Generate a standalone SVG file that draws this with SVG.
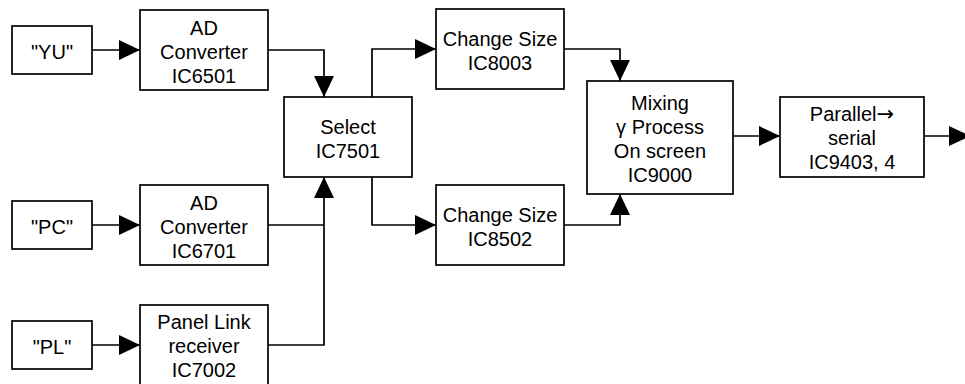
<svg xmlns="http://www.w3.org/2000/svg" width="965" height="384" viewBox="0 0 965 384">
<defs>
<style>
.box{fill:#fff;stroke:#000;stroke-width:1.7}
.t{font-family:"Liberation Sans",Arial,"DejaVu Sans",sans-serif;font-size:20px;fill:#000;text-anchor:middle}
.sym{font-family:"DejaVu Sans",sans-serif;font-size:21px}
.c{fill:none;stroke:#000;stroke-width:1.7}
</style>
<marker id="ah" markerUnits="userSpaceOnUse" viewBox="0 0 21 20" markerWidth="21" markerHeight="20" refX="21" refY="10" orient="auto">
<path d="M0,0 L21,10 L0,20 Z" fill="#000"/>
</marker>
</defs>
<rect width="965" height="384" fill="#fff"/>
<g id="connectors">
<path class="c" d="M92,50 H140" marker-end="url(#ah)"/>
<path class="c" d="M92,225 H140" marker-end="url(#ah)"/>
<path class="c" d="M92,345 H140" marker-end="url(#ah)"/>
<path class="c" d="M268,50 H324 V97" marker-end="url(#ah)"/>
<path class="c" d="M268,225 H324"/>
<path class="c" d="M268,345 H324 V177" marker-end="url(#ah)"/>
<path class="c" d="M372,97 V49 H436" marker-end="url(#ah)"/>
<path class="c" d="M372,177 V225 H436" marker-end="url(#ah)"/>
<path class="c" d="M564,49 H620 V81" marker-end="url(#ah)"/>
<path class="c" d="M564,225 H620 V194" marker-end="url(#ah)"/>
<path class="c" d="M733,136 H780" marker-end="url(#ah)"/>
<path class="c" d="M924,136 H970" marker-end="url(#ah)"/>
</g>
<g id="yu"><rect class="box" x="12" y="26" width="80" height="48"/><text class="t" x="52" y="59">"YU"</text></g>
<g id="pc"><rect class="box" x="12" y="201" width="80" height="48"/><text class="t" x="52" y="234">"PC"</text></g>
<g id="pl"><rect class="box" x="12" y="321" width="80" height="48"/><text class="t" x="52" y="354">"PL"</text></g>
<g id="ad6501"><rect class="box" x="140" y="10" width="128" height="80"/>
<text class="t" x="204" y="35">AD</text><text class="t" x="204" y="59">Converter</text><text class="t" x="204" y="83">IC6501</text></g>
<g id="ad6701"><rect class="box" x="140" y="185" width="128" height="80"/>
<text class="t" x="204" y="210">AD</text><text class="t" x="204" y="234">Converter</text><text class="t" x="204" y="258">IC6701</text></g>
<g id="panellink"><rect class="box" x="140" y="305" width="128" height="82"/>
<text class="t" x="204" y="329">Panel Link</text><text class="t" x="204" y="353">receiver</text><text class="t" x="204" y="377">IC7002</text></g>
<g id="select"><rect class="box" x="284" y="97" width="128" height="80"/>
<text class="t" x="348" y="134">Select</text><text class="t" x="348" y="158">IC7501</text></g>
<g id="cs8003"><rect class="box" x="436" y="9" width="128" height="80"/>
<text class="t" x="500" y="46">Change Size</text><text class="t" x="500" y="70">IC8003</text></g>
<g id="cs8502"><rect class="box" x="436" y="185" width="128" height="80"/>
<text class="t" x="500" y="222">Change Size</text><text class="t" x="500" y="246">IC8502</text></g>
<g id="mixing"><rect class="box" x="587" y="81" width="146" height="113"/>
<text class="t" x="660" y="110">Mixing</text><text class="t" x="660" y="134">γ Process</text><text class="t" x="660" y="158">On screen</text><text class="t" x="660" y="182">IC9000</text></g>
<g id="parallel"><rect class="box" x="780" y="97" width="144" height="80"/>
<text class="t" x="852" y="121">Parallel<tspan class="sym">→</tspan></text><text class="t" x="852" y="145">serial</text><text class="t" x="852" y="169">IC9403, 4</text></g>
</svg>
